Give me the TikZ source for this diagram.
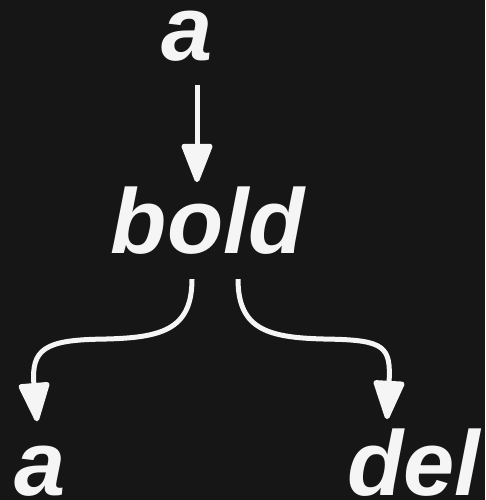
\documentclass[tikz,border=0pt]{standalone}
\usepackage{fontspec}
\setmainfont{Liberation Sans}
\usetikzlibrary{arrows.meta}
\definecolor{bgdark}{HTML}{161616}
\definecolor{inkwhite}{HTML}{F5F5F5}

\begin{document}
\begin{tikzpicture}[
  x=1pt, y=1pt,
  word/.style={inkwhite, anchor=base, inner sep=0pt,
               font=\fontsize{92}{100}\selectfont\bfseries\itshape},
  edge/.style={-{Triangle[length=43pt, width=32pt, round]}, inkwhite, line width=5pt},
]

% =========================== canvas ===========================
\fill[bgdark] (0,0) rectangle (485,500);
\useasboundingbox (0,0) rectangle (485,500);

% words
\node[word] (topa) at (187, 439) {a};
\node[word] (bold) at (208, 246) {bold};
\node[word] (lefta) at (40, 5) {a};
\node[word] (del) at (414, 5) {del};

% a -> bold
\draw[edge] ([xshift=10pt, yshift=-23pt]topa.south) -- ([xshift=-11pt, yshift=5pt]bold.north);

% bold -> a, bold -> del
\draw[edge] ([xshift=-16pt, yshift=-24pt]bold.south)
  .. controls +(0,-52) and +(60,1) .. ++(-92,-60)
  .. controls +(-55,-1) and +(-6,72) .. ([xshift=-3pt, yshift=24pt]lefta.north);
\draw[edge] ([xshift=30pt, yshift=-24pt]bold.south)
  .. controls +(0,-52) and +(-60,1) .. ++(92,-60)
  .. controls +(55,-1) and +(4,72) .. ([xshift=-27pt, yshift=9pt]del.north);

\end{tikzpicture}
\end{document}
